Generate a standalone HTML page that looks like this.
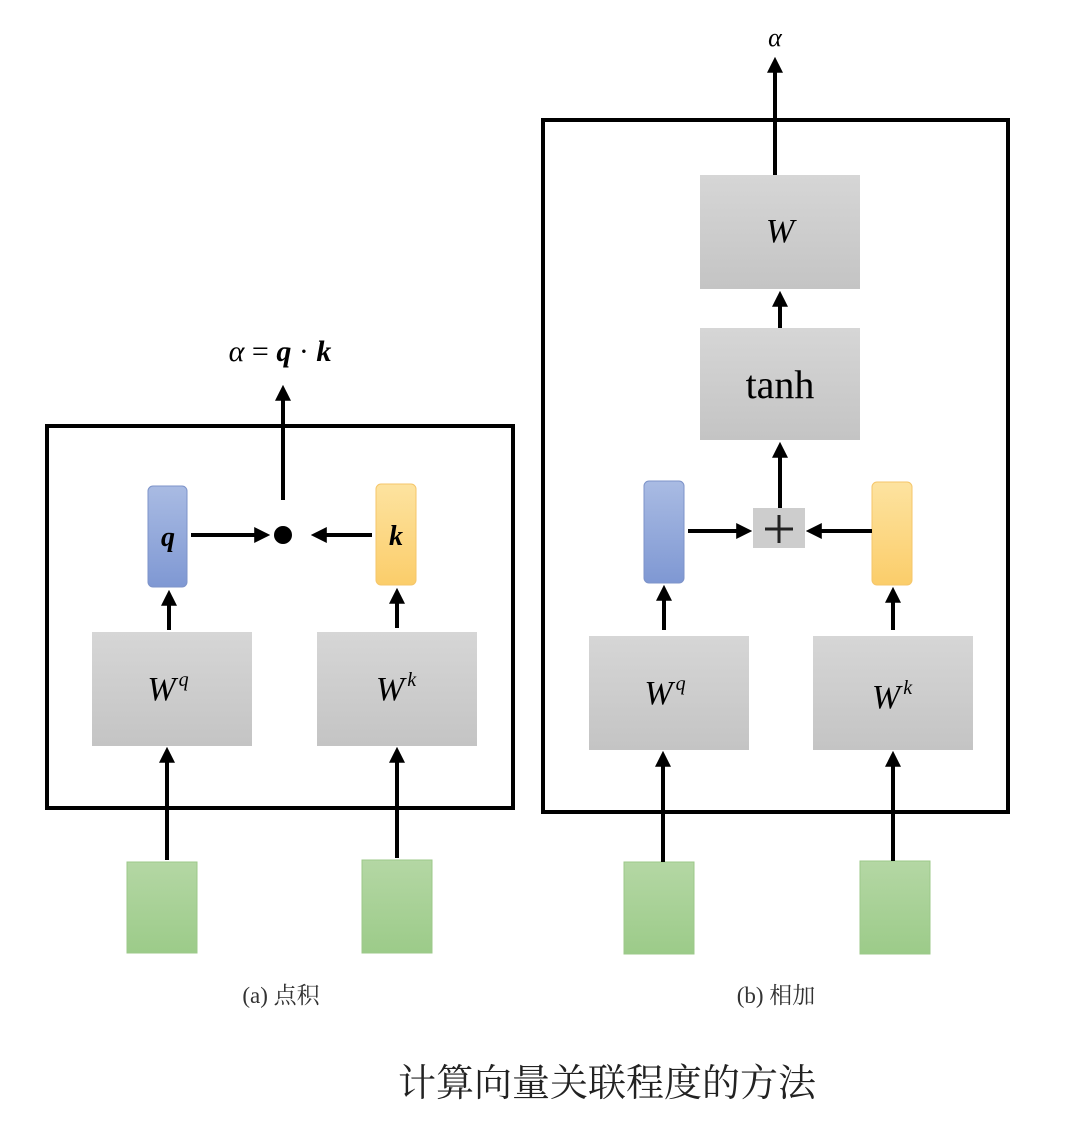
<!DOCTYPE html>
<html><head><meta charset="utf-8"><style>
html,body{margin:0;padding:0;background:#fff;}
svg{display:block}
.m{font-family:"Liberation Serif","DejaVu Serif",serif;font-style:italic;}
.c{font-family:"Liberation Serif","Noto Serif CJK SC",serif;}
</style></head><body>
<svg width="1079" height="1146" viewBox="0 0 1079 1146" xmlns="http://www.w3.org/2000/svg">
<defs>
<marker id="a" markerWidth="4" markerHeight="4" refX="2.2" refY="2" orient="auto" markerUnits="strokeWidth"><path d="M0,0 L4,2 L0,4 Z" fill="#000"/></marker>
<linearGradient id="g" x1="0" y1="0" x2="0" y2="1"><stop offset="0" stop-color="#d6d6d6"/><stop offset="1" stop-color="#c4c4c4"/></linearGradient>
<linearGradient id="b" x1="0" y1="0" x2="0" y2="1"><stop offset="0" stop-color="#a9bbe3"/><stop offset="1" stop-color="#7f98d3"/></linearGradient>
<linearGradient id="y" x1="0" y1="0" x2="0" y2="1"><stop offset="0" stop-color="#fde3a0"/><stop offset="1" stop-color="#fbcd6a"/></linearGradient>
<linearGradient id="gr" x1="0" y1="0" x2="0" y2="1"><stop offset="0" stop-color="#b4d7a4"/><stop offset="1" stop-color="#9ccb89"/></linearGradient>
</defs>
<g stroke="#000" stroke-width="4" fill="none">
<rect x="47" y="426" width="466" height="382"/>
<rect x="543" y="120" width="465" height="692"/>
</g>
<rect x="92" y="632" width="160" height="114" fill="url(#g)"/>
<rect x="317" y="632" width="160" height="114" fill="url(#g)"/>
<rect x="148" y="486" width="39" height="101" rx="5" fill="url(#b)" stroke="#7d93c9"/>
<rect x="376" y="484" width="40" height="101" rx="5" fill="url(#y)" stroke="#f5c66a"/>
<rect x="127" y="862" width="70" height="91" fill="url(#gr)" stroke="#9cc88a"/>
<rect x="362" y="860" width="70" height="93" fill="url(#gr)" stroke="#9cc88a"/>
<circle cx="283" cy="535" r="9" fill="#000"/>
<rect x="700" y="175" width="160" height="114" fill="url(#g)"/>
<rect x="700" y="328" width="160" height="112" fill="url(#g)"/>
<rect x="753" y="508" width="52" height="40" fill="#cdcdcd"/>
<rect x="589" y="636" width="160" height="114" fill="url(#g)"/>
<rect x="813" y="636" width="160" height="114" fill="url(#g)"/>
<rect x="644" y="481" width="40" height="102" rx="5" fill="url(#b)" stroke="#7d93c9"/>
<rect x="872" y="482" width="40" height="103" rx="5" fill="url(#y)" stroke="#f5c66a"/>
<rect x="624" y="862" width="70" height="92" fill="url(#gr)" stroke="#9cc88a"/>
<rect x="860" y="861" width="70" height="93" fill="url(#gr)" stroke="#9cc88a"/>
<g stroke="#000" stroke-width="4" fill="none" marker-end="url(#a)">
<line x1="283" y1="500" x2="283" y2="392"/>
<line x1="191" y1="535" x2="263" y2="535"/>
<line x1="372" y1="535" x2="318" y2="535"/>
<line x1="169" y1="630" x2="169" y2="597"/>
<line x1="397" y1="628" x2="397" y2="595"/>
<line x1="167" y1="860" x2="167" y2="754"/>
<line x1="397" y1="858" x2="397" y2="754"/>
<line x1="775" y1="175" x2="775" y2="64"/>
<line x1="780" y1="328" x2="780" y2="298"/>
<line x1="780" y1="508" x2="780" y2="449"/>
<line x1="688" y1="531" x2="745" y2="531"/>
<line x1="872" y1="531" x2="813" y2="531"/>
<line x1="664" y1="630" x2="664" y2="592"/>
<line x1="893" y1="630" x2="893" y2="594"/>
<line x1="663" y1="862" x2="663" y2="758"/>
<line x1="893" y1="861" x2="893" y2="758"/>
</g>
<g stroke="#222" stroke-width="3"><line x1="779" y1="515" x2="779" y2="543"/><line x1="765" y1="529" x2="793" y2="529"/></g>
<text x="280" y="361" class="m" font-size="30" text-anchor="middle">α <tspan font-style="normal">=</tspan> <tspan font-weight="bold">q</tspan><tspan font-style="normal"> · </tspan><tspan font-weight="bold">k</tspan></text>
<text x="168" y="546" class="m" font-size="28" font-weight="bold" text-anchor="middle">q</text>
<text x="396" y="545" class="m" font-size="28" font-weight="bold" text-anchor="middle">k</text>
<text x="168" y="700" class="m" font-size="34" text-anchor="middle">W<tspan font-size="20" dx="3" dy="-14">q</tspan></text>
<text x="396" y="700" class="m" font-size="34" text-anchor="middle">W<tspan font-size="20" dx="3" dy="-14">k</tspan></text>
<text x="665" y="704" class="m" font-size="34" text-anchor="middle">W<tspan font-size="20" dx="3" dy="-14">q</tspan></text>
<text x="892" y="708" class="m" font-size="34" text-anchor="middle">W<tspan font-size="20" dx="3" dy="-14">k</tspan></text>
<text x="780" y="242" class="m" font-size="34" text-anchor="middle">W</text>
<text x="780" y="398" class="c" font-size="40" text-anchor="middle">tanh</text>
<text x="775" y="46" class="m" font-size="26" text-anchor="middle">α</text>
<text x="281" y="1003" class="c" font-size="23" text-anchor="middle" fill="#333">(a) 点积</text>
<text x="776" y="1003" class="c" font-size="23" text-anchor="middle" fill="#333">(b) 相加</text>
<text x="607" y="1096" font-family="'Noto Serif CJK SC','Noto Sans CJK SC',serif" font-size="38" text-anchor="middle" fill="#222">计算向量关联程度的方法</text>
</svg>
</body></html>
